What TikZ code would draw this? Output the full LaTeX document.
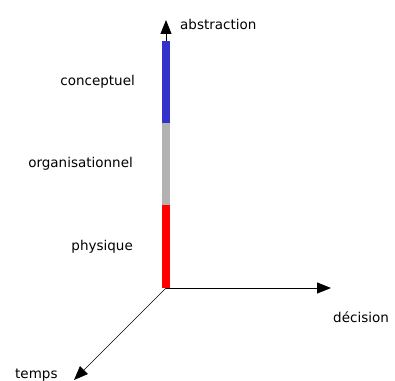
\documentclass[tikz,border=0pt]{standalone}
\usepackage{fontspec}
\setmainfont{DejaVu Sans}
\usetikzlibrary{arrows.meta,positioning,calc}
\definecolor{LevelBlue}{RGB}{51,51,204}
\definecolor{LevelGray}{RGB}{178,178,178}
\definecolor{LevelRed}{RGB}{255,0,0}
\tikzset{
  axis/.style={-{Triangle[length=14pt,width=11pt]},draw=black,line width=0.9pt},
  diagaxis/.style={-{Triangle[length=14pt,width=11pt]},draw=black,line width=0.6pt},
  level/.style={line width=8pt},
  levellabel/.style={font=\fontsize{13.5}{15}\selectfont,inner sep=0pt,anchor=east},
  axislabel/.style={font=\fontsize{13.5}{15}\selectfont,inner sep=0pt,anchor=west}
}
\begin{document}
\begin{tikzpicture}[x=1pt,y=1pt]
\useasboundingbox (0,0) rectangle (395,380);
\coordinate (O) at (166,92);
\coordinate (P) at (166,175);
\coordinate (Q) at (166,257);
\coordinate (R) at (166,339);
\coordinate (Up) at (166,360);
\coordinate (Right) at (331,92);
\coordinate (Down) at (74,0);

\draw[axis](R)--(Up);\draw[axis](O)--(Right);\draw[diagaxis](O)--(Down);

\draw[level,LevelRed](O)--(P);
\draw[level,LevelGray](P)--(Q);
\draw[level,LevelBlue](Q)--(R);

\node[axislabel] (abstraction) at (180,356) {abstraction};
\node[axislabel] (decision) at (333,63) {décision};
\node[axislabel,anchor=base west] (temps) at (15,2) {temps};
\node[levellabel] (conceptuel) at (135,298) {conceptuel};
\node[levellabel] (organisationnel) at (133,216) {organisationnel};
\node[levellabel] (physique) at (133,133) {physique};
\end{tikzpicture}
\end{document}
